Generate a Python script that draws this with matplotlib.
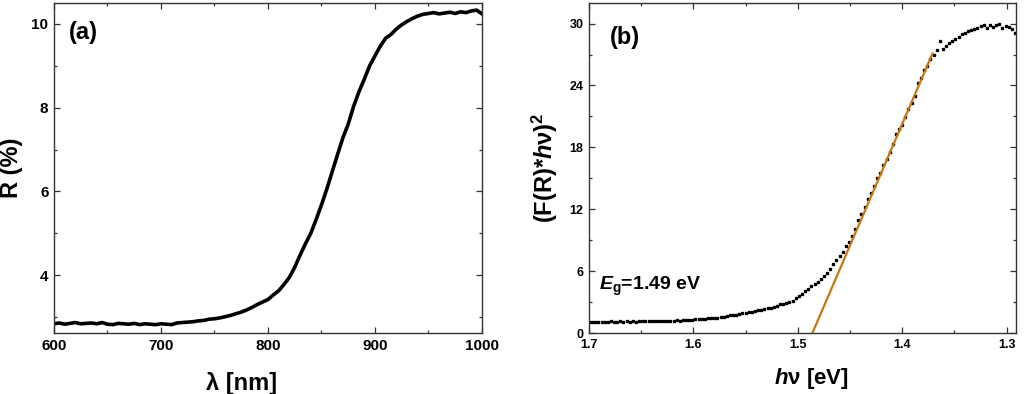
import matplotlib
matplotlib.use("Agg")
import matplotlib.pyplot as plt
from matplotlib.ticker import MultipleLocator

plt.rcParams['font.family'] = ['Liberation Sans', 'DejaVu Sans']
plt.rcParams['font.weight'] = 'bold'
plt.rcParams['mathtext.fontset'] = 'custom'
plt.rcParams['mathtext.rm'] = 'Liberation Sans:bold'
plt.rcParams['mathtext.bf'] = 'Liberation Sans:bold'
plt.rcParams['mathtext.it'] = 'Liberation Sans:italic:bold'

# ---- panel (a): reflectance vs wavelength ----
wavelength_nm = [600, 605, 610, 615, 620, 625, 630, 635, 640, 645, 650, 655, 660, 665, 670,
                 675, 680, 685, 690, 695, 700, 705, 710, 715, 720, 725, 730, 735, 740, 745,
                 750, 755, 760, 765, 770, 775, 780, 785, 790, 795, 800, 805, 810, 815, 820,
                 825, 830, 835, 840, 845, 850, 855, 860, 865, 870, 875, 880, 885, 890, 895,
                 900, 905, 910, 915, 920, 925, 930, 935, 940, 945, 950, 955, 960, 965, 970,
                 975, 980, 985, 990, 995, 1000]
reflectance_pct = [2.84, 2.86, 2.83, 2.85, 2.87, 2.84, 2.85, 2.86, 2.84, 2.87, 2.83, 2.82, 2.85, 2.84, 2.83,
                   2.85, 2.82, 2.84, 2.83, 2.82, 2.84, 2.83, 2.82, 2.86, 2.87, 2.88, 2.89, 2.91, 2.92, 2.95,
                   2.96, 2.98, 3.01, 3.04, 3.08, 3.12, 3.17, 3.23, 3.30, 3.36, 3.42, 3.53, 3.63, 3.78, 3.95,
                   4.19, 4.48, 4.75, 5.00, 5.33, 5.68, 6.06, 6.47, 6.88, 7.28, 7.61, 8.03, 8.38, 8.68, 9.00,
                   9.24, 9.47, 9.66, 9.75, 9.88, 9.98, 10.06, 10.13, 10.19, 10.23, 10.25, 10.27, 10.24, 10.26, 10.28,
                   10.25, 10.29, 10.27, 10.31, 10.33, 10.24]

# ---- panel (b): Kubelka-Munk / Tauc plot ----
photon_energy_eV = [1.700, 1.697, 1.694, 1.691, 1.688, 1.685, 1.682, 1.679, 1.676, 1.673,
                    1.670, 1.667, 1.664, 1.661, 1.658, 1.655, 1.652, 1.649, 1.646, 1.643,
                    1.640, 1.637, 1.634, 1.631, 1.628, 1.625, 1.622, 1.619, 1.616, 1.613,
                    1.610, 1.607, 1.604, 1.601, 1.598, 1.595, 1.592, 1.589, 1.586, 1.583,
                    1.580, 1.577, 1.574, 1.571, 1.568, 1.565, 1.562, 1.559, 1.556, 1.553,
                    1.550, 1.547, 1.544, 1.541, 1.538, 1.535, 1.532, 1.529, 1.526, 1.523,
                    1.520, 1.517, 1.514, 1.511, 1.508, 1.505, 1.502, 1.499, 1.496, 1.493,
                    1.490, 1.487, 1.484, 1.481, 1.478, 1.475, 1.472, 1.469, 1.466, 1.463,
                    1.460, 1.457, 1.454, 1.451, 1.448, 1.445, 1.442, 1.439, 1.436, 1.433,
                    1.430, 1.427, 1.424, 1.421, 1.418, 1.415, 1.412, 1.409, 1.406, 1.403,
                    1.400, 1.397, 1.394, 1.391, 1.388, 1.385, 1.382, 1.379, 1.376, 1.373,
                    1.370, 1.367, 1.364, 1.361, 1.358, 1.355, 1.352, 1.349, 1.346, 1.343,
                    1.340, 1.337, 1.334, 1.331, 1.328, 1.325, 1.322, 1.319, 1.316, 1.313,
                    1.310, 1.307, 1.304, 1.301, 1.298, 1.295, 1.292]
km_squared = [1.08, 1.10, 1.06, 1.09, 1.11, 1.07, 1.10, 1.12, 1.08, 1.11,
              1.13, 1.09, 1.12, 1.10, 1.14, 1.11, 1.15, 1.13, 1.16, 1.12,
              1.17, 1.15, 1.18, 1.16, 1.20, 1.18, 1.21, 1.19, 1.23, 1.21,
              1.26, 1.24, 1.29, 1.27, 1.32, 1.34, 1.36, 1.38, 1.41, 1.44,
              1.47, 1.50, 1.54, 1.58, 1.66, 1.70, 1.74, 1.79, 1.84, 1.90,
              1.95, 2.01, 2.06, 2.13, 2.19, 2.27, 2.33, 2.40, 2.47, 2.56,
              2.66, 2.77, 2.84, 2.93, 3.02, 3.12, 3.35, 3.55, 3.82, 4.05,
              4.25, 4.52, 4.78, 4.95, 5.20, 5.48, 5.80, 6.20, 6.65, 7.10,
              7.45, 7.90, 8.40, 8.85, 9.40, 10.10, 10.95, 11.55, 12.20, 12.95,
              13.55, 14.30, 15.00, 15.55, 16.25, 16.90, 17.55, 18.30, 19.30, 19.80,
              20.20, 20.90, 21.75, 22.30, 22.95, 24.20, 24.70, 25.50, 25.90, 26.55,
              26.95, 27.40, 28.35, 27.55, 27.80, 28.10, 28.35, 28.55, 28.75, 29.00,
              29.10, 29.25, 29.40, 29.50, 29.60, 29.75, 29.85, 29.55, 29.90, 29.70,
              29.85, 30.00, 29.60, 29.80, 29.65, 29.45, 29.10]

fit_energy_eV = [1.486, 1.371]
fit_values = [0.0, 27.1]
gap_label = r"$\mathit{E}_{\mathrm{g}}$=1.49 eV"

spine_color = '#333333'

fig = plt.figure(figsize=(10.24, 3.94), dpi=100)
axa = fig.add_axes([0.0527, 0.1548, 0.4180, 0.8376])
axb = fig.add_axes([0.5752, 0.1548, 0.4170, 0.8376])

for ax in (axa, axb):
    for s in ax.spines.values():
        s.set_color(spine_color)
        s.set_linewidth(1.0)
    ax.tick_params(which='both', direction='in', top=True, right=True,
                   color=spine_color, width=0.9)
    ax.tick_params(which='major', length=4.5, pad=4)
    ax.tick_params(which='minor', length=2.5)

# panel (a)
axa.plot(wavelength_nm, reflectance_pct, color='black', lw=2.6)
axa.set_xlim(600, 1000)
axa.set_ylim(2.62, 10.5)
axa.xaxis.set_major_locator(MultipleLocator(100))
axa.xaxis.set_minor_locator(MultipleLocator(50))
axa.yaxis.set_major_locator(MultipleLocator(2))
axa.yaxis.set_minor_locator(MultipleLocator(1))
axa.tick_params(which='major', labelsize=11)
axa.set_xlabel("λ [nm]", fontsize=17, fontweight='bold')
axa.xaxis.set_label_coords(0.438, -0.118)
axa.set_ylabel("R (%)", fontsize=17, fontweight='bold')
axa.yaxis.set_label_coords(-0.072, 0.5)
axa.text(0.035, 0.912, "(a)", transform=axa.transAxes, fontsize=17,
         fontweight='bold', ha='left', va='center')

# panel (b)
axb.plot(photon_energy_eV, km_squared, linestyle='none', marker='s',
         markersize=2.0, color='black')
axb.plot(fit_energy_eV, fit_values, color='#C87512', lw=1.6)
axb.set_xlim(1.7, 1.291)
axb.set_ylim(0, 32)
axb.xaxis.set_major_locator(MultipleLocator(0.1))
axb.xaxis.set_minor_locator(MultipleLocator(0.05))
axb.yaxis.set_major_locator(MultipleLocator(6))
axb.yaxis.set_minor_locator(MultipleLocator(3))
axb.tick_params(which='major', labelsize=9)
axb.set_xlabel(r"$\mathit{h}$ν [eV]", fontsize=16, fontweight='bold')
axb.xaxis.set_label_coords(0.522, -0.1)
axb.set_ylabel(r"(F(R)*$\mathit{h}$ν)$^{2}$", fontsize=17, fontweight='bold')
axb.yaxis.set_label_coords(-0.068, 0.5)
axb.text(0.049, 0.895, "(b)", transform=axb.transAxes, fontsize=17,
         fontweight='bold', ha='left', va='center')
axb.text(1.690, 4.2, gap_label, fontsize=14, fontweight='bold',
         ha='left', va='baseline')

for ax in (axa, axb):
    for lab in ax.get_xticklabels() + ax.get_yticklabels():
        lab.set_fontweight('bold')

fig.savefig("out.png", dpi=100)
